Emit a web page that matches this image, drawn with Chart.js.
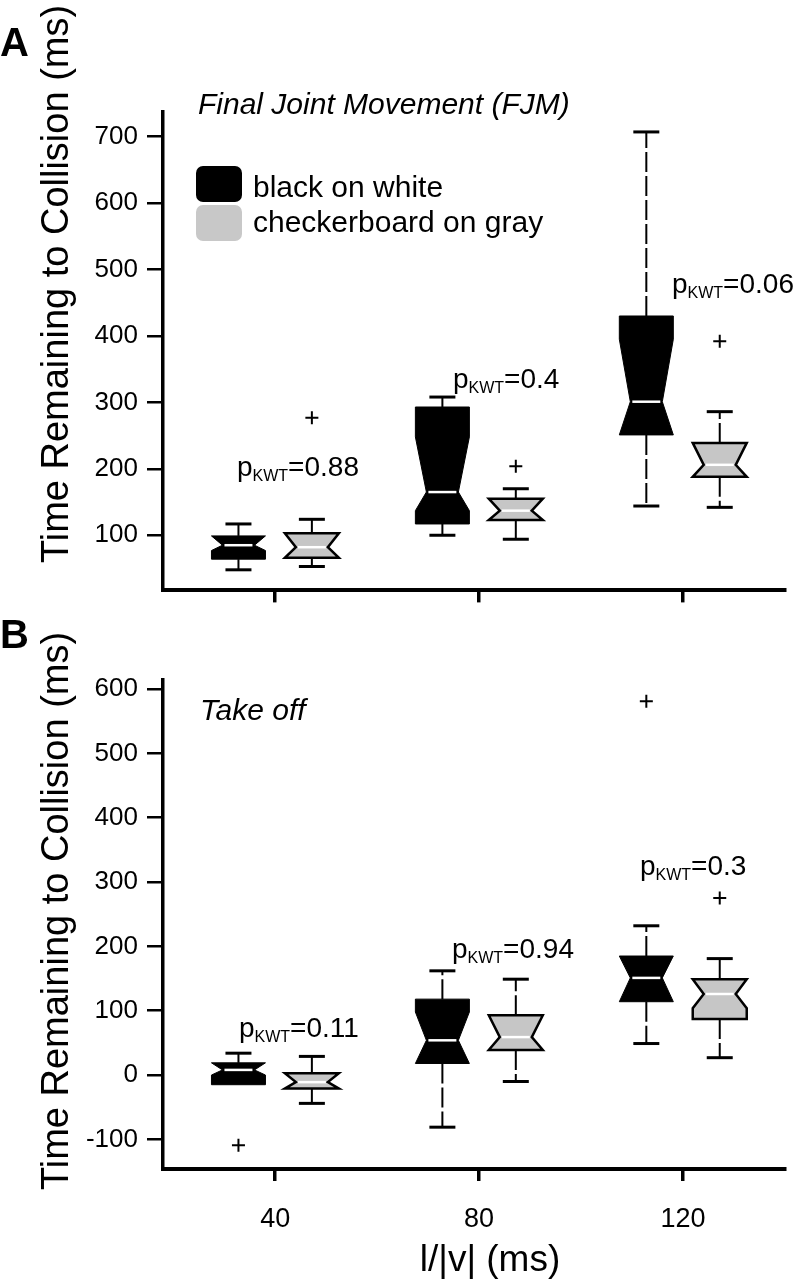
<!DOCTYPE html>
<html>
<head>
<meta charset="utf-8">
<script src="https://cdn.jsdelivr.net/npm/chart.js@4.4.0/dist/chart.umd.min.js"></script>
<style>
  html, body { margin: 0; padding: 0; background: #fff; }
  #wrap { position: relative; width: 794px; height: 1280px; }
  .panel { position: absolute; left: 0; width: 794px; }
  #panelA { top: 0; height: 615px; }
  #panelB { top: 615px; height: 665px; }
</style>
</head>
<body>
<div id="wrap">
  <div class="panel" id="panelA"><canvas id="chartA"></canvas></div>
  <div class="panel" id="panelB"><canvas id="chartB"></canvas></div>
</div>
<script>
// l/|v| groups and axis ticks
const groups = [40, 80, 120];
const xTicks = [40, 80, 120];
const yTicksA = [100, 200, 300, 400, 500, 600, 700];
const yTicksB = [-100, 0, 100, 200, 300, 400, 500, 600];

// each box: [min, q1, notch low, median, notch high, q3, max]
const fjmBlack = [
  [48, 64, 77, 85, 101, 99, 117],
  [100, 117, 137, 165, 248, 293, 308],
  [144, 251, 240, 301, 395, 430, 707]
];
const fjmGray = [
  [53, 66, 60, 82, 108, 103, 124],
  [94, 123, 115, 137, 160, 155, 170],
  [142, 188, 180, 206, 245, 239, 286]
];
const fjmBlackOut = [[], [], []];
const fjmGrayOut = [[277], [204], [392]];

const takeoffBlack = [
  [-15, -15, 0, 8, 25, 19, 34],
  [-81, 18, 10, 54, 98, 118, 162],
  [49, 114, 105, 151, 195, 185, 232]
];
const takeoffGray = [
  [-44, -21, -30, -11, 10, 3, 29],
  [-10, 39, 30, 59, 100, 93, 149],
  [27, 87, 104, 126, 160, 149, 181]
];
const takeoffBlackOut = [[-109], [], [581]];
const takeoffGrayOut = [[], [], [275]];

const pValuesA = ['0.88', '0.4', '0.06'];
const pValuesB = ['0.11', '0.94', '0.3'];

const FONT = "'Liberation Sans', Arial, Helvetica, sans-serif";
const GRAY = '#c6c6c6';
const SHIFT = 7.2; // half distance between paired boxes, x units

function outlierPoints(out, shift) {
  const pts = [];
  out.forEach((vals, i) => vals.forEach(v => pts.push({ x: groups[i] + shift, y: v })));
  return pts;
}

function boxPlugin(series) {
  return {
    id: 'notchedBoxes',
    afterDatasetsDraw(chart) {
      const ctx = chart.ctx, xs = chart.scales.x, ys = chart.scales.y;
      const half = 27, notchHalf = 16, capHalf = 13;
      const py = v => ys.getPixelForValue(v);
      ctx.save();
      series.forEach(s => {
        s.values.forEach((d, i) => {
          const [lo, q1, nlo, med, nhi, q3, hi] = d;
          const cx = xs.getPixelForValue(groups[i] + s.shift);
          const yQ1 = py(q1), yQ3 = py(q3), yMed = py(med);
          const yNlo = py(Math.max(nlo, q1)), yNhi = py(Math.min(nhi, q3));

          // whiskers (dashed, starting at the box)
          ctx.strokeStyle = '#000';
          ctx.lineWidth = 2;
          ctx.setLineDash([20, 4]);
          [[yQ3, py(hi)], [yQ1, py(lo)]].forEach(([a, b]) => {
            if (Math.abs(a - b) < 1) return;
            ctx.beginPath(); ctx.moveTo(cx, a); ctx.lineTo(cx, b); ctx.stroke();
          });
          ctx.setLineDash([]);
          ctx.lineWidth = 3;
          [[hi, q3], [lo, q1]].forEach(([v, q]) => {
            if (v === q) return;
            ctx.beginPath(); ctx.moveTo(cx - capHalf, py(v)); ctx.lineTo(cx + capHalf, py(v)); ctx.stroke();
          });

          // notched box
          ctx.beginPath();
          ctx.moveTo(cx - half, yQ3);
          ctx.lineTo(cx + half, yQ3);
          ctx.lineTo(cx + half, yNhi);
          ctx.lineTo(cx + notchHalf, yMed);
          ctx.lineTo(cx + half, yNlo);
          ctx.lineTo(cx + half, yQ1);
          ctx.lineTo(cx - half, yQ1);
          ctx.lineTo(cx - half, yNlo);
          ctx.lineTo(cx - notchHalf, yMed);
          ctx.lineTo(cx - half, yNhi);
          ctx.closePath();
          ctx.fillStyle = s.fill;
          ctx.fill();
          ctx.lineJoin = 'miter';
          ctx.lineWidth = s.edge ? 2.5 : 1;
          ctx.strokeStyle = '#000';
          ctx.stroke();

          // median
          ctx.strokeStyle = '#fff';
          ctx.lineWidth = 2.5;
          ctx.beginPath();
          ctx.moveTo(cx - notchHalf + 2, yMed);
          ctx.lineTo(cx + notchHalf - 2, yMed);
          ctx.stroke();
        });
      });
      ctx.restore();
    }
  };
}

function drawP(ctx, value, x, yc) {
  const base = yc + 10;
  ctx.textBaseline = 'alphabetic';
  ctx.textAlign = 'left';
  ctx.font = '28px ' + FONT;
  ctx.fillText('p', x, base);
  let cx = x + ctx.measureText('p').width;
  ctx.font = '16px ' + FONT;
  ctx.fillText('KWT', cx, base + 5);
  cx += ctx.measureText('KWT').width;
  ctx.font = '28px ' + FONT;
  ctx.fillText('=' + value, cx, base);
}

function textPlugin(t) {
  return {
    id: 'panelText',
    afterDraw(chart) {
      const ctx = chart.ctx;
      ctx.save();
      ctx.fillStyle = '#000';

      // panel letter
      ctx.font = 'bold 40px ' + FONT;
      ctx.textAlign = 'left';
      ctx.textBaseline = 'middle';
      ctx.fillText(t.letter, 0, t.letterY);

      // y title
      ctx.save();
      ctx.translate(58, t.yTitleY);
      ctx.rotate(-Math.PI / 2);
      ctx.font = '38px ' + FONT;
      ctx.textAlign = 'center';
      ctx.textBaseline = 'middle';
      ctx.fillText('Time Remaining to Collision (ms)', 0, 0);
      ctx.restore();

      // italic header
      ctx.font = 'italic 30px ' + FONT;
      ctx.textAlign = 'left';
      ctx.textBaseline = 'alphabetic';
      ctx.fillText(t.header, t.headerX, t.headerY);

      // legend
      if (t.legend) {
        ctx.fillStyle = '#000';
        ctx.beginPath(); ctx.roundRect(196, 166, 46, 36, 7); ctx.fill();
        ctx.fillStyle = '#c8c8c8';
        ctx.beginPath(); ctx.roundRect(196, 205, 46, 36, 7); ctx.fill();
        ctx.fillStyle = '#000';
        ctx.font = '30px ' + FONT;
        ctx.fillText('black on white', 253, 197);
        ctx.fillText('checkerboard on gray', 253, 232);
      }

      // Kruskal-Wallis p values
      t.pValues.forEach((v, i) => drawP(ctx, v, t.pPos[i][0], t.pPos[i][1]));

      // x title
      if (t.xTitle) {
        ctx.font = '37px ' + FONT;
        ctx.textAlign = 'center';
        ctx.textBaseline = 'middle';
        ctx.fillText(t.xTitle, 490, t.xTitleY);
      }
      ctx.restore();
    }
  };
}

function makeChart(id, cfg) {
  const outlierStyle = {
    type: 'scatter', pointStyle: 'cross', pointRadius: 6.5,
    borderColor: '#000', borderWidth: 2, backgroundColor: '#000'
  };
  return new Chart(document.getElementById(id), {
    type: 'scatter',
    data: {
      datasets: [
        Object.assign({ label: 'black on white', data: outlierPoints(cfg.blackOut, -SHIFT) }, outlierStyle),
        Object.assign({ label: 'checkerboard on gray', data: outlierPoints(cfg.grayOut, SHIFT) }, outlierStyle)
      ]
    },
    options: {
      responsive: true,
      maintainAspectRatio: false,
      animation: false,
      events: [],
      layout: { padding: { left: 0, right: 9, top: cfg.top, bottom: 0 } },
      plugins: { legend: { display: false }, tooltip: { enabled: false } },
      scales: {
        x: {
          type: 'linear',
          min: 18, max: 140,
          afterBuildTicks: s => { s.ticks = xTicks.map(v => ({ value: v })); },
          afterFit: s => { s.height = cfg.xHeight; },
          border: { display: true, color: '#000', width: 4 },
          grid: { drawOnChartArea: false, drawTicks: true, tickLength: 12, color: '#000', lineWidth: 3.5 },
          ticks: {
            display: cfg.xLabels,
            color: '#000',
            padding: 22,
            maxRotation: 0,
            font: { family: FONT, size: 27 }
          }
        },
        y: {
          type: 'linear',
          min: cfg.yMin, max: cfg.yMax,
          afterBuildTicks: s => { s.ticks = cfg.yTicks.map(v => ({ value: v })); },
          afterFit: s => { s.width = 163; },
          border: { display: true, color: '#000', width: 3.5 },
          grid: { drawOnChartArea: false, drawTicks: true, tickLength: 16, color: '#000', lineWidth: 2.5 },
          ticks: { color: '#000', padding: 9, font: { family: FONT, size: 26 } }
        }
      }
    },
    plugins: [
      boxPlugin([
        { values: cfg.black, shift: -SHIFT, fill: '#000', edge: false },
        { values: cfg.gray, shift: SHIFT, fill: GRAY, edge: true }
      ]),
      textPlugin(cfg.text)
    ]
  });
}

makeChart('chartA', {
  top: 112, xHeight: 23, xLabels: false,
  yMin: 17, yMax: 737, yTicks: yTicksA,
  black: fjmBlack, gray: fjmGray, blackOut: fjmBlackOut, grayOut: fjmGrayOut,
  text: {
    letter: 'A', letterY: 45, yTitleY: 284,
    header: 'Final Joint Movement (FJM)', headerX: 198, headerY: 114,
    legend: true,
    pValues: pValuesA, pPos: [[237, 466], [453, 378], [672, 283]]
  }
});

makeChart('chartB', {
  top: 65, xHeight: 111, xLabels: true,
  yMin: -146, yMax: 614, yTicks: yTicksB,
  black: takeoffBlack, gray: takeoffGray, blackOut: takeoffBlackOut, grayOut: takeoffGrayOut,
  text: {
    letter: 'B', letterY: 22, yTitleY: 296,
    header: 'Take off', headerX: 200, headerY: 105,
    legend: false,
    pValues: pValuesB, pPos: [[239, 412], [452, 333], [640, 250]],
    xTitle: 'l/|v| (ms)', xTitleY: 646
  }
});
</script>
</body>
</html>
